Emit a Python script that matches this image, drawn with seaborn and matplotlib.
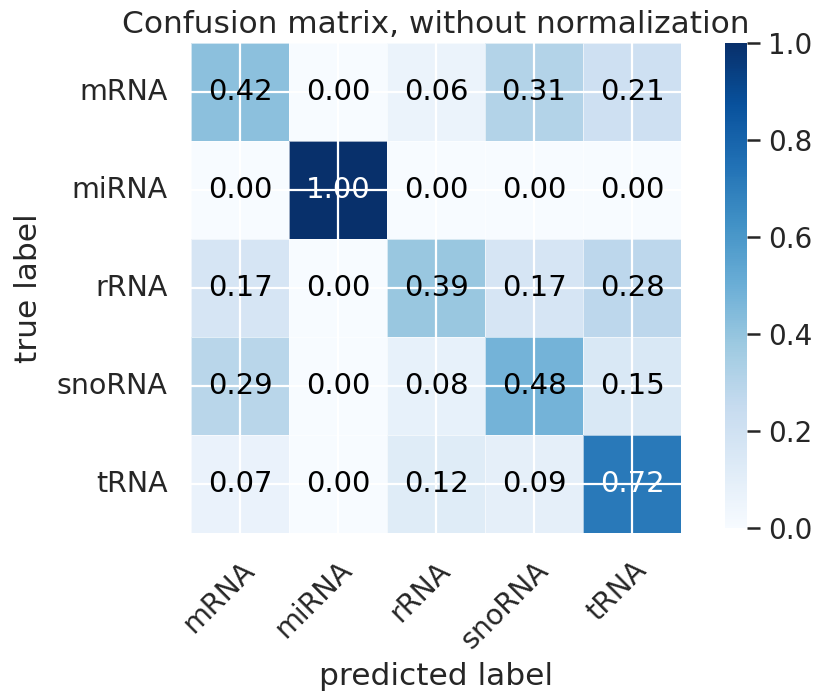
import numpy as np
import pandas as pd
import matplotlib
matplotlib.use("Agg")
import matplotlib.pyplot as plt
import seaborn as sns

# Class names and normalized confusion matrix rows (true label -> predicted label)
classes = ["mRNA", "miRNA", "rRNA", "snoRNA", "tRNA"]
row_mrna = [0.42, 0.00, 0.06, 0.31, 0.21]
row_mirna = [0.00, 1.00, 0.00, 0.00, 0.00]
row_rrna = [0.17, 0.00, 0.39, 0.17, 0.28]
row_snorna = [0.29, 0.00, 0.08, 0.48, 0.15]
row_trna = [0.07, 0.00, 0.12, 0.09, 0.72]
cbar_ticks = [0.0, 0.2, 0.4, 0.6, 0.8, 1.0]

cm = pd.DataFrame([row_mrna, row_mirna, row_rrna, row_snorna, row_trna],
                  index=classes, columns=classes)

sns.set_theme(style="darkgrid")
plt.rcParams["font.family"] = ["DejaVu Sans"]
label_fs = 22.5
tick_fs = 20.5
annot_fs = 21
text_color = "#262626"

fig = plt.figure(figsize=(8.17, 6.94), dpi=100)
ax = fig.add_axes([0.2338, 0.232, 0.5998, 0.706])
cax = fig.add_axes([0.8874, 0.2392, 0.0269, 0.699])

sns.heatmap(cm, ax=ax, cbar_ax=cax, cmap="Blues", vmin=0, vmax=1,
            annot=False, linewidths=0.6, linecolor=(1, 1, 1, 0.6),
            cbar_kws={"ticks": cbar_ticks})

# White grid lines through the cell centres, drawn above the cells
ax.grid(True, color="white", linewidth=1.6)
ax.set_axisbelow(False)
ax.tick_params(axis="both", length=0, labelsize=tick_fs, labelcolor=text_color)
ax.tick_params(axis="x", pad=16.5)
ax.tick_params(axis="y", pad=17)

thresh = cm.values.max() / 2.0
for i in range(cm.shape[0]):
    for j in range(cm.shape[1]):
        v = cm.values[i, j]
        ax.text(j + 0.5, i + 0.5, f"{v:.2f}", ha="center", va="center",
                fontsize=annot_fs, color="white" if v > thresh else "black")

ax.set_xticklabels(classes, rotation=45, ha="right", rotation_mode="anchor")
ax.set_yticklabels(classes, rotation=0)
ax.set_xlabel("predicted label", fontsize=label_fs, color=text_color, labelpad=6)
ax.set_ylabel("true label", fontsize=label_fs, color=text_color, labelpad=10)
ax.set_title("Confusion matrix, without normalization", fontsize=label_fs,
             color=text_color, pad=7)

cax.tick_params(right=True, length=9, width=1.8, color=text_color,
                labelsize=20, labelcolor=text_color, pad=6)
cax.set_yticklabels([f"{t:.1f}" for t in cbar_ticks])

fig.savefig("out.png", dpi=100, facecolor="white")
